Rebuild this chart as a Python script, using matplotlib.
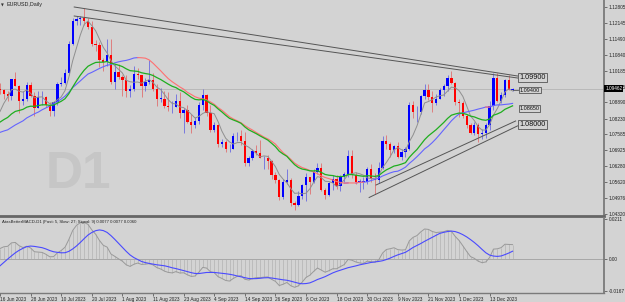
import matplotlib
matplotlib.use("Agg")
import matplotlib.pyplot as plt
import numpy as np
import pandas as pd

# daily EURUSD bars, 16 Jun 2023 .. 21 Dec 2023
opens = [1.0945, 1.0940, 1.0922, 1.0915, 1.0985, 1.0958, 1.0895, 1.0905, 1.0960, 1.0915,
         1.0865, 1.0910, 1.0910, 1.0880, 1.0855, 1.0890, 1.0965, 1.0970, 1.1010, 1.1130,
         1.1225, 1.1230, 1.1235, 1.1225, 1.1200, 1.1130, 1.1125, 1.1065, 1.1055, 1.1085,
         1.0975, 1.1015, 1.0995, 1.0980, 1.0935, 1.0945, 1.1005, 1.1000, 1.0955, 1.0975,
         1.0980, 1.0945, 1.0905, 1.0905, 1.0875, 1.0870, 1.0870, 1.0895, 1.0845, 1.0860,
         1.0810, 1.0795, 1.0815, 1.0880, 1.0920, 1.0845, 1.0775, 1.0795, 1.0720, 1.0725,
         1.0697, 1.0700, 1.0750, 1.0750, 1.0730, 1.0640, 1.0660, 1.0690, 1.0680, 1.0660,
         1.0660, 1.0650, 1.0590, 1.0570, 1.0500, 1.0565, 1.0573, 1.0475, 1.0470, 1.0505,
         1.0550, 1.0585, 1.0565, 1.0605, 1.0620, 1.0530, 1.0510, 1.0560, 1.0575, 1.0545,
         1.0585, 1.0595, 1.0670, 1.0590, 1.0565, 1.0565, 1.0565, 1.0615, 1.0575, 1.0570,
         1.0620, 1.0730, 1.0720, 1.0695, 1.0710, 1.0665, 1.0685, 1.0700, 1.0880, 1.0850,
         1.0850, 1.0915, 1.0940, 1.0910, 1.0888, 1.0905, 1.0940, 1.0955, 1.0990, 1.0970,
         1.0890, 1.0885, 1.0835, 1.0795, 1.0765, 1.0795, 1.0760, 1.0765, 1.0795, 1.0875,
         1.0990, 1.0895, 1.0920, 1.0980, 1.0940]
highs = [1.0970, 1.0945, 1.0935, 1.0985, 1.1012, 1.0960, 1.0935, 1.0975, 1.0975, 1.0930,
         1.0935, 1.0935, 1.0915, 1.0890, 1.0890, 1.0975, 1.0995, 1.1025, 1.1140, 1.1235,
         1.1245, 1.1245, 1.1276, 1.1235, 1.1225, 1.1145, 1.1135, 1.1070, 1.1150, 1.1150,
         1.1045, 1.1045, 1.1000, 1.1000, 1.0960, 1.1040, 1.1030, 1.1000, 1.0990, 1.1065,
         1.1010, 1.0965, 1.0950, 1.0935, 1.0930, 1.0895, 1.0925, 1.0930, 1.0865, 1.0880,
         1.0840, 1.0830, 1.0890, 1.0945, 1.0925, 1.0880, 1.0810, 1.0800, 1.0740, 1.0735,
         1.0720, 1.0765, 1.0770, 1.0775, 1.0770, 1.0670, 1.0700, 1.0715, 1.0735, 1.0670,
         1.0675, 1.0655, 1.0605, 1.0575, 1.0575, 1.0617, 1.0580, 1.0485, 1.0525, 1.0555,
         1.0600, 1.0585, 1.0615, 1.0640, 1.0640, 1.0540, 1.0565, 1.0590, 1.0590, 1.0590,
         1.0605, 1.0695, 1.0695, 1.0605, 1.0575, 1.0585, 1.0625, 1.0635, 1.0600, 1.0645,
         1.0750, 1.0755, 1.0725, 1.0715, 1.0725, 1.0700, 1.0705, 1.0890, 1.0895, 1.0875,
         1.0920, 1.0965, 1.0965, 1.0935, 1.0925, 1.0950, 1.0965, 1.1000, 1.1017, 1.0975,
         1.0905, 1.0895, 1.0840, 1.0805, 1.0810, 1.0805, 1.0780, 1.0805, 1.0895, 1.1010,
         1.1010, 1.0930, 1.0985, 1.1000, 1.0950]
lows = [1.0925, 1.0905, 1.0895, 1.0900, 1.0955, 1.0845, 1.0880, 1.0895, 1.0910, 1.0835,
        1.0865, 1.0880, 1.0870, 1.0835, 1.0833, 1.0880, 1.0955, 1.0965, 1.1000, 1.1125,
        1.1205, 1.1205, 1.1205, 1.1190, 1.1120, 1.1100, 1.1035, 1.1020, 1.1040, 1.0965,
        1.0945, 1.0985, 1.0915, 1.0910, 1.0910, 1.0935, 1.0985, 1.0910, 1.0935, 1.0965,
        1.0935, 1.0875, 1.0890, 1.0865, 1.0855, 1.0845, 1.0870, 1.0825, 1.0765, 1.0805,
        1.0765, 1.0785, 1.0800, 1.0860, 1.0835, 1.0770, 1.0770, 1.0705, 1.0705, 1.0685,
        1.0685, 1.0700, 1.0730, 1.0715, 1.0630, 1.0630, 1.0655, 1.0675, 1.0660, 1.0615,
        1.0615, 1.0575, 1.0560, 1.0490, 1.0495, 1.0555, 1.0465, 1.0448, 1.0465, 1.0495,
        1.0485, 1.0515, 1.0560, 1.0595, 1.0525, 1.0495, 1.0505, 1.0530, 1.0535, 1.0525,
        1.0565, 1.0585, 1.0580, 1.0555, 1.0520, 1.0535, 1.0555, 1.0565, 1.0515, 1.0560,
        1.0615, 1.0700, 1.0665, 1.0680, 1.0660, 1.0655, 1.0665, 1.0695, 1.0825, 1.0810,
        1.0840, 1.0905, 1.0900, 1.0850, 1.0880, 1.0905, 1.0915, 1.0935, 1.0965, 1.0880,
        1.0830, 1.0825, 1.0785, 1.0760, 1.0755, 1.0725, 1.0740, 1.0745, 1.0775, 1.0860,
        1.0890, 1.0885, 1.0910, 1.0940, 1.0935]
closes = [1.0940, 1.0922, 1.0915, 1.0985, 1.0958, 1.0895, 1.0905, 1.0960, 1.0915, 1.0865,
          1.0910, 1.0910, 1.0880, 1.0855, 1.0890, 1.0965, 1.0970, 1.1010, 1.1130, 1.1225,
          1.1230, 1.1235, 1.1225, 1.1200, 1.1130, 1.1125, 1.1065, 1.1055, 1.1085, 1.0975,
          1.1015, 1.0995, 1.0980, 1.0935, 1.0945, 1.1005, 1.1000, 1.0955, 1.0975, 1.0980,
          1.0945, 1.0905, 1.0905, 1.0875, 1.0870, 1.0870, 1.0895, 1.0845, 1.0860, 1.0810,
          1.0795, 1.0815, 1.0880, 1.0920, 1.0845, 1.0775, 1.0795, 1.0720, 1.0725, 1.0697,
          1.0700, 1.0750, 1.0750, 1.0730, 1.0640, 1.0660, 1.0690, 1.0680, 1.0660, 1.0660,
          1.0650, 1.0590, 1.0570, 1.0500, 1.0565, 1.0573, 1.0475, 1.0470, 1.0505, 1.0550,
          1.0585, 1.0565, 1.0605, 1.0620, 1.0530, 1.0510, 1.0560, 1.0575, 1.0545, 1.0585,
          1.0595, 1.0670, 1.0590, 1.0565, 1.0565, 1.0565, 1.0615, 1.0575, 1.0570, 1.0620,
          1.0730, 1.0720, 1.0695, 1.0710, 1.0665, 1.0685, 1.0700, 1.0880, 1.0850, 1.0850,
          1.0915, 1.0940, 1.0910, 1.0888, 1.0905, 1.0940, 1.0955, 1.0990, 1.0970, 1.0890,
          1.0885, 1.0835, 1.0795, 1.0765, 1.0795, 1.0760, 1.0765, 1.0795, 1.0875, 1.0990,
          1.0895, 1.0920, 1.0980, 1.0940, 1.0946]
# closes before the visible range (1 May .. 15 Jun), only used to warm up the averages
warmup_closes = [1.0975, 1.0995, 1.1065, 1.1010, 1.1020, 1.1005, 1.0960, 1.0980, 1.0915, 1.0850,
                 1.0870, 1.0860, 1.0840, 1.0770, 1.0805, 1.0815, 1.0770, 1.0750, 1.0725, 1.0725,
                 1.0705, 1.0735, 1.0690, 1.0765, 1.0710, 1.0715, 1.0695, 1.0700, 1.0780, 1.0750,
                 1.0755, 1.0790, 1.0830, 1.0945]

date_labels = ["16 Jun 2023", "28 Jun 2023", "10 Jul 2023", "20 Jul 2023", "1 Aug 2023",
               "11 Aug 2023", "23 Aug 2023", "4 Sep 2023", "14 Sep 2023", "26 Sep 2023",
               "6 Oct 2023", "18 Oct 2023", "30 Oct 2023", "9 Nov 2023", "21 Nov 2023",
               "1 Dec 2023", "13 Dec 2023"]
price_ticks = [1.12805, 1.12145, 1.11490, 1.10840, 1.10185, 1.09535, 1.08890, 1.08230,
               1.07585, 1.06925, 1.06280, 1.05620, 1.04976, 1.04320]
macd_ticks = [0.0211, 0.0, -0.0167]
macd_tick_labels = ["0.0211", "0.00", "-0.0167"]

# trend lines: (bar index, price) end points
res_lines = [((19.4, 1.12805), (135.3, 1.09976)), ((19.4, 1.12436), (135.3, 1.09894))]
sup_lines = [((98.3, 1.05507), (134.8, 1.08131)), ((96.5, 1.04995), (135.3, 1.07930))]
level_labels = [(1.09900, 5.2), (1.09400, 4.0), (1.08650, 4.0), (1.08000, 5.2)]
bid = 1.09462

bg = "#d3d3d3"
n = len(closes)
x = np.arange(n)
o = np.array(opens); h = np.array(highs); l = np.array(lows); c = np.array(closes)

allc = pd.Series(warmup_closes + closes)
nw = len(warmup_closes)
sma5 = allc.rolling(5).mean().values[nw:]
ema21 = allc.ewm(span=21, adjust=False).mean().values[nw:]
sma21 = allc.rolling(21).mean().values[nw:]
macd_all = allc.ewm(span=5, adjust=False).mean() - allc.ewm(span=27, adjust=False).mean()
signal = macd_all.rolling(9).mean().values[nw:]
macd = macd_all.values[nw:]

# slow average drawn blue while rising, red while falling
step = np.r_[np.nan, np.diff(sma21)]
up_seg = (step > 0) | (np.r_[step[1:], np.nan] > 0)
dn_seg = (step <= 0) | (np.r_[step[1:], np.nan] <= 0)
sma_up = np.where(up_seg, sma21, np.nan)
sma_dn = np.where(dn_seg, sma21, np.nan)

fig = plt.figure(figsize=(6.25, 3.02), dpi=100, facecolor=bg)
ax = fig.add_axes([0, 1 - 216 / 302, 604 / 625, 216 / 302], facecolor=bg)
ax2 = fig.add_axes([0, 1 - 293 / 302, 604 / 625, 75 / 302], facecolor=bg, sharex=ax)

ax.set_xlim(0.70, 157.9)
ax.set_ylim(1.04236, 1.13092)

ax.text(0.076, 0.13, "D1", transform=ax.transAxes, fontsize=37, fontweight="bold",
        family="Liberation Sans", color="#c6c6c6", va="baseline", zorder=0)

ax.axhline(bid, color="#b5b5b5", lw=0.6, zorder=1)

up = c >= o
body_lo = np.minimum(o, c)
body_h = np.maximum(np.abs(c - o), 0.00008)
ax.vlines(x[up], l[up], h[up], color="#6a6ae0", lw=0.6, zorder=2)
ax.vlines(x[~up], l[~up], h[~up], color="#e07070", lw=0.6, zorder=2)
ax.bar(x[up], body_h[up], bottom=body_lo[up], width=0.6, color="#0000ff", lw=0, zorder=3)
ax.bar(x[~up], body_h[~up], bottom=body_lo[~up], width=0.6, color="#ff0000", lw=0, zorder=3)

ax.plot(x, sma5, color="#8f8f8f", lw=0.7, zorder=4)
ax.plot(x, sma_up, color="#6464ff", lw=0.8, zorder=4)
ax.plot(x, sma_dn, color="#ff7070", lw=0.8, zorder=4)
ax.plot(x, ema21, color="#1fae1f", lw=0.9, zorder=4)

for (x0, y0), (x1, y1) in res_lines + sup_lines:
    ax.plot([x0, x1], [y0, y1], color="#555555", lw=0.7, zorder=5)
ax.plot([134, 135.5], [1.0940, 1.0940], color="#555555", lw=0.6, zorder=5)

for val, fs in level_labels:
    ax.text(135.8, val, f"{val:.5f}", fontsize=fs, family="Liberation Sans", va="center",
            ha="left", color="#111111", zorder=6,
            bbox=dict(boxstyle="square,pad=0.15", fc=bg, ec="#555555", lw=0.6))

ax.text(0.002, 0.985, "\u25bc", transform=ax.transAxes, fontsize=2.6, color="#333333",
        va="top")
ax.text(0.011, 0.99, "EURUSD,Daily", transform=ax.transAxes, fontsize=3.9,
        family="Liberation Sans", color="#222222", va="top")

ax.yaxis.tick_right()
ax.set_yticks(price_ticks)
ax.set_yticklabels([f"{p:.5f}" for p in price_ticks])
ax.tick_params(axis="y", length=2, width=0.5, pad=1.5, labelsize=3.4, colors="#444444",
               labelcolor="#222222")
ax.tick_params(axis="x", bottom=False, labelbottom=False)
ax.text(1.002, bid, "1.09462", transform=ax.get_yaxis_transform(), fontsize=3.4,
        family="Liberation Sans", color="white", va="center", ha="left", zorder=7,
        bbox=dict(boxstyle="square,pad=0.2", fc="black", ec="black", lw=0))
for s in ["left", "top"]:
    ax.spines[s].set_visible(False)
ax.spines["right"].set_color("#7a7a7a")
ax.spines["right"].set_linewidth(1.3)
ax.spines["bottom"].set_color("#666666")
ax.spines["bottom"].set_linewidth(2.0)

# MACD panel
ax2.set_ylim(-0.01795, 0.02165)
ax2.axhline(0, color="#a0a0a0", lw=0.6)
ax2.vlines(x, 0, macd, color="#ababab", lw=0.4)
ax2.plot(x, macd, color="#999999", lw=0.7)
ax2.plot(x, signal, color="#4a4aff", lw=0.8)
ax2.text(0.003, 0.97, "AtasBetterMACD-D1 (Fast: 5, Slow: 27; Signal: 9) 0.0077 0.0077 0.0060",
         transform=ax2.transAxes, fontsize=3.1, family="Liberation Sans", color="#222222",
         va="top")
ax2.yaxis.tick_right()
ax2.set_yticks(macd_ticks)
ax2.set_yticklabels(macd_tick_labels)
ax2.tick_params(axis="y", length=2, width=0.5, pad=1.5, labelsize=3.4, colors="#444444",
                labelcolor="#222222")
ax2.set_xticks(np.arange(0, n, 8)[:len(date_labels)])
ax2.set_xticklabels(date_labels, ha="left")
ax2.tick_params(axis="x", length=2, width=0.5, pad=1.2, labelsize=3.4, colors="#444444",
                labelcolor="#222222")
for lab in ax2.get_xticklabels():
    lab.set_family("Liberation Sans")
for lab in ax2.get_yticklabels() + ax.get_yticklabels():
    lab.set_family("Liberation Sans")
for s in ["left", "top"]:
    ax2.spines[s].set_visible(False)
ax2.spines["right"].set_color("#7a7a7a")
ax2.spines["right"].set_linewidth(1.3)
ax2.spines["bottom"].set_color("#7a7a7a")
ax2.spines["bottom"].set_linewidth(1.0)

fig.savefig("out.png", dpi=100, facecolor=bg)
